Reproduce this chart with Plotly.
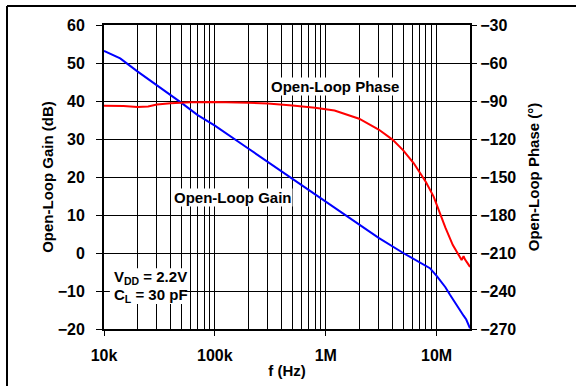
import plotly.graph_objects as go

# ====================================== Data ============================================================= #

gain_freq = [1e4, 1.4e4, 2e4, 3e4, 5e4, 7e4, 1e5, 2e5, 5e5, 1e6, 2e6, 3e6, 5e6, 7e6, 8.7e6,
             1e7, 1.2e7, 1.32e7, 1.5e7, 1.62e7, 1.75e7, 1.85e7, 2e7]
gain_db = [53.2, 51.2, 47.8, 44.2, 39.5, 36.3, 33.5, 27.5, 19.6, 13.6, 7.7, 4.0, 0.0, -2.3, -4.0,
           -6.0, -9.0, -11.0, -13.5, -15.3, -16.5, -17.5, -19.8]

phase_freq = [1e4, 1.5e4, 2e4, 2.5e4, 3e4, 4e4, 6e4, 1e5, 2e5, 3e5, 5e5, 8e5, 1.2e6, 2e6, 3e6,
              4e6, 5e6, 6.2e6, 7e6, 8e6, 9.4e6, 1.07e7, 1.2e7, 1.4e7, 1.55e7, 1.68e7, 1.75e7,
              1.8e7, 1.9e7, 2e7]
phase_deg = [-93.8, -94.0, -94.8, -94.3, -92.8, -91.8, -91.0, -90.8, -91.3, -92.0, -93.5, -95.3,
             -97.5, -104.0, -112.5, -120.5, -129.0, -139.0, -146.0, -154.0, -165.5, -178.7,
             -190.0, -203.7, -210.0, -215.5, -212.5, -215.0, -218.0, -221.0]

x_major = [1e4, 1e5, 1e6, 1e7]
x_major_text = ['10k', '100k', '1M', '10M']
x_minor = [m * d for d in (1e4, 1e5, 1e6) for m in range(2, 10)] + [2e7]

# ========================================== Figure =========================================================== #

font_family = 'Liberation Sans, Arial, sans-serif'
bold = dict(family=font_family, size=15, color='black', weight='bold')
tick_bold = dict(family=font_family, size=16, color='black', weight='bold')

fig = go.Figure(data=[

    go.Scatter(name='Open-Loop Gain', x=gain_freq, y=gain_db, mode='lines',
               line={'color': '#0000FF', 'width': 2}, yaxis='y'),

    go.Scatter(name='Open-Loop Phase', x=phase_freq, y=phase_deg, mode='lines',
               line={'color': '#FF0000', 'width': 2}, yaxis='y2')
])

fig.update_layout(width=576, height=386, showlegend=False,
                  margin=dict(l=104, r=106, t=25, b=57),
                  paper_bgcolor='white', plot_bgcolor='white', font=bold)

fig.update_xaxes(type='log', range=[4, 7.30103], tickmode='array',
                 tickvals=x_major, ticktext=x_major_text, automargin=False,
                 ticks='outside', ticklen=5, tickcolor='black', tickfont=tick_bold,
                 ticklabelstandoff=6,
                 showgrid=True, gridcolor='black', gridwidth=1,
                 minor=dict(tickmode='array', tickvals=x_minor, showgrid=True,
                            gridcolor='black', gridwidth=1, ticks=''),
                 showline=True, linecolor='black', linewidth=2, mirror=True,
                 title=dict(text='f (Hz)', font=bold, standoff=2), zeroline=False)

fig.update_layout(
    yaxis=dict(range=[-20, 60], dtick=10, tick0=0, ticks='outside', ticklen=6,
               tickcolor='black', tickfont=tick_bold, showgrid=True, gridcolor='black',
               gridwidth=1, zeroline=False, showline=True, linecolor='black',
               linewidth=2, mirror=True, automargin=False, ticklabelstandoff=8,
               title=dict(text='Open-Loop Gain (dB)', font=bold, standoff=0)),
    yaxis2=dict(range=[-270, -30], dtick=30, tick0=-30, overlaying='y', side='right',
                ticks='outside', ticklen=6, tickcolor='black', tickfont=tick_bold,
                showgrid=False, zeroline=False, automargin=False,
                title=dict(text='Open-Loop Phase (°)', font=bold, standoff=13))
)

# -- Curve labels and test conditions -- #
fig.add_annotation(x=6.083, y=43.8, xref='x', yref='y', text='Open-Loop Phase',
                   showarrow=False, bgcolor='white', font=bold, borderpad=0)
fig.add_annotation(x=5.16, y=14.5, xref='x', yref='y', text='Open-Loop Gain',
                   showarrow=False, bgcolor='white', font=bold, borderpad=0)

# white box behind the test conditions (shape x in data units), then the two lines of text
fig.add_shape(type='rect', xref='x', yref='y', x0=11300, x1=53700, y0=-13.4, y1=-4.0,
              fillcolor='white', line=dict(width=0), layer='above')
fig.add_annotation(x=4.07, y=-6.4, xref='x', yref='y', xanchor='left',
                   text='V<sub>DD</sub> = 2.2V', showarrow=False, font=bold)
fig.add_annotation(x=4.07, y=-11.2, xref='x', yref='y', xanchor='left',
                   text='C<sub>L</sub> = 30 pF', showarrow=False, font=bold)

# -- Outer frame (left and top edges) -- #
fig.add_shape(type='line', xref='paper', yref='paper', x0=-97/366, x1=1.3, y0=1 + 19/304,
              y1=1 + 19/304, line=dict(color='black', width=2))
fig.add_shape(type='line', xref='paper', yref='paper', x0=-97/366, x1=-97/366, y0=-0.3,
              y1=1 + 19/304, line=dict(color='black', width=2))

# page body margin removed so the figure sits at the window's corner
fig.write_html('out.html', config={'displayModeBar': False},
               post_script="document.body.style.margin='0';")
